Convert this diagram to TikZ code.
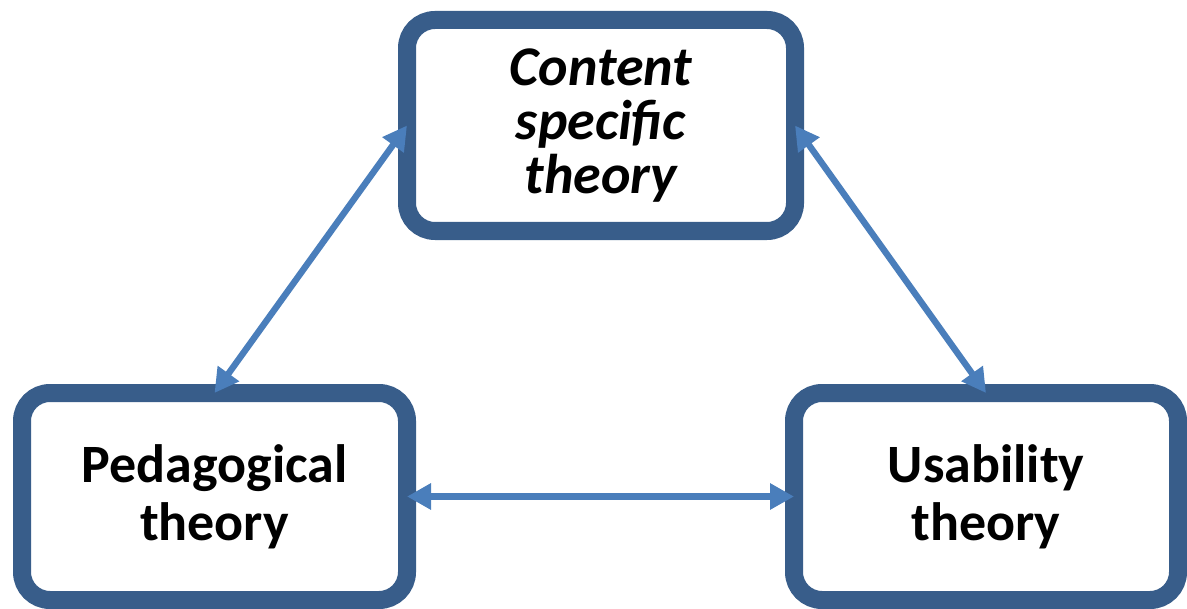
\documentclass[tikz,border=0pt]{standalone}
\usepackage{fontspec}
\setmainfont{Carlito}
\usetikzlibrary{arrows.meta}
\definecolor{boxblue}{RGB}{56,93,138}
\definecolor{arrowblue}{RGB}{74,126,187}

\begin{document}
\begin{tikzpicture}[
    x                 = 0.5pt,
    y                 = -0.5pt,
    theory/.style     = {draw=boxblue, line width=9pt, rounded corners=14pt, fill=white,
                         inner sep=0pt, outer sep=0pt, align=center,
                         font=\fontsize{27}{29}\selectfont\bfseries},
    link/.style       = {draw=arrowblue, line width=3.2pt,
                         {Triangle[length=12pt,width=12.5pt]}-{Triangle[length=12pt,width=12.5pt]}}
  ]
\useasboundingbox (0,0) rectangle (1187,609);

\node[theory, minimum width=194pt, minimum height=105.5pt,
      font=\fontsize{28}{27}\selectfont\bfseries\itshape] (content) at (601,125.5) {Content\\specific\\theory};
\node[theory, minimum width=192.5pt, minimum height=103.5pt] (pedagogy) at (214.5,496.5) {Pedagogical\\theory};
\node[theory, minimum width=192pt, minimum height=103.5pt] (usability) at (986,496.5) {Usability\\theory};

\draw[link] (pedagogy.north) -- (content.west);
\draw[link] (content.east) -- (usability.north);
\draw[link] (pedagogy.east) -- (usability.west);

\end{tikzpicture}
\end{document}
